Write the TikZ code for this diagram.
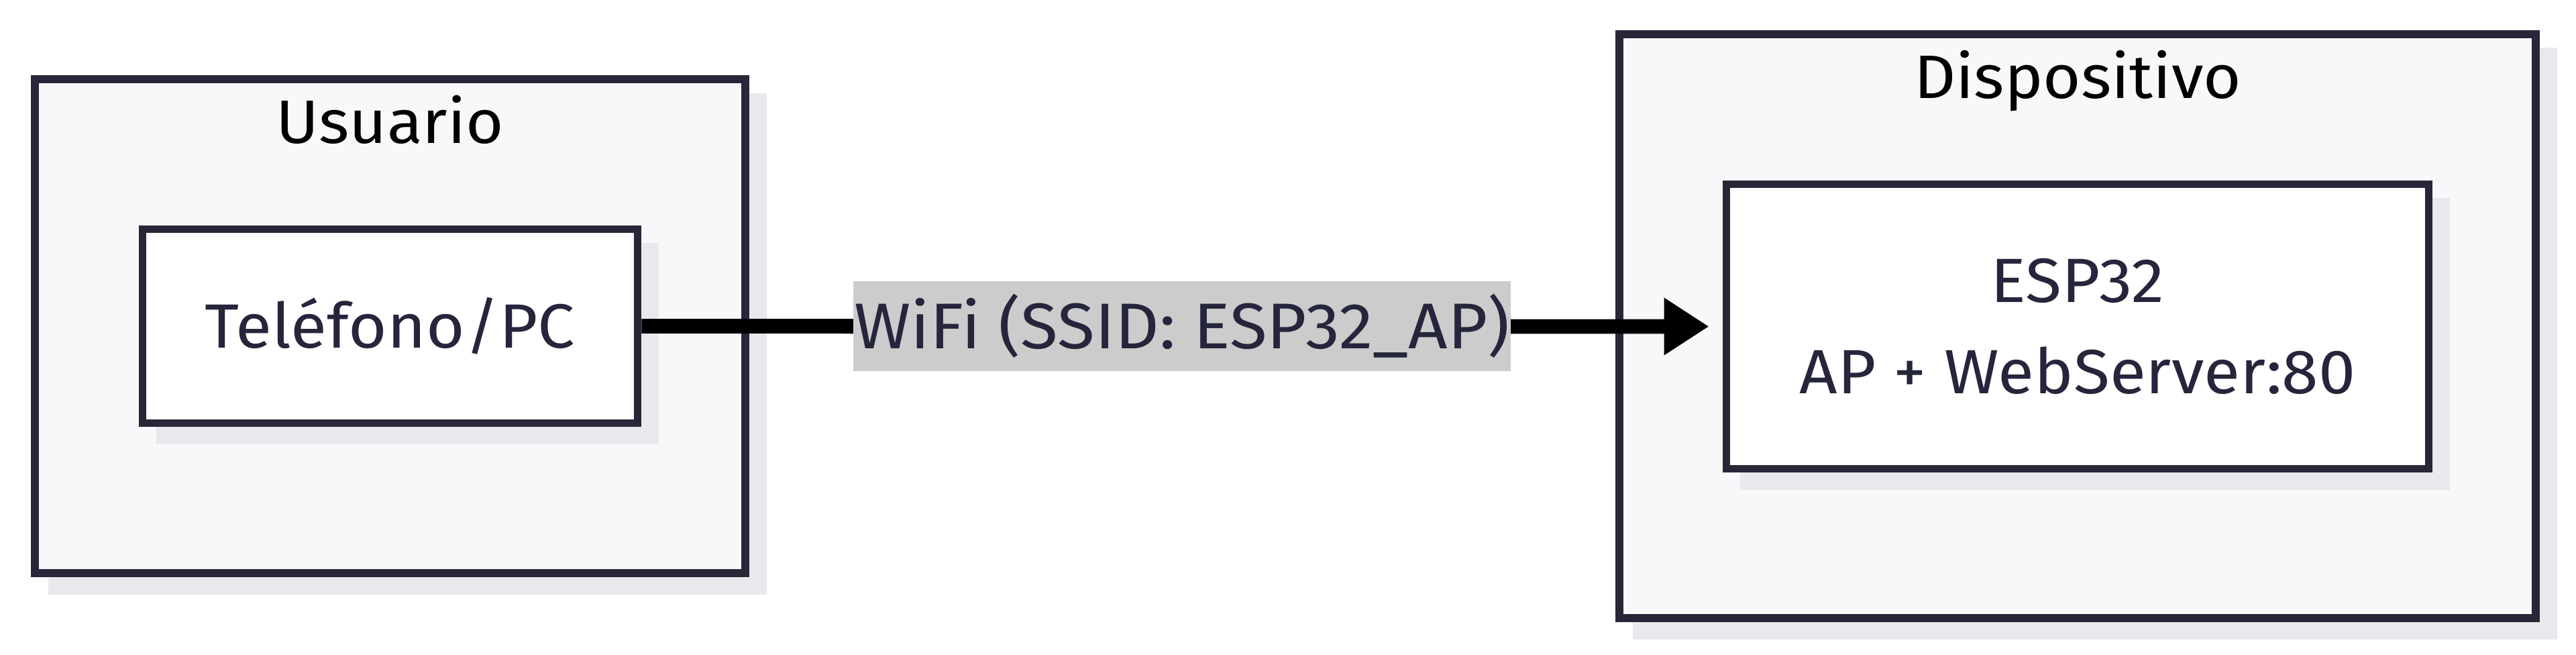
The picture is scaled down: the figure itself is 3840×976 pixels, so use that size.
\documentclass[tikz,border=0pt]{standalone}
\usepackage{fontspec}
\setmainfont{Fira Sans}[FakeStretch=1.06]
\usetikzlibrary{arrows.meta}
\definecolor{bordc}{HTML}{272739}
\definecolor{clfill}{HTML}{F8F8FA}
\definecolor{shadc}{HTML}{E9E9ED}
\definecolor{lblbg}{HTML}{CCCCCC}
\definecolor{txtc}{HTML}{25253C}
\tikzset{
  cluster/.style={draw=bordc, fill=clfill, line width=3.4pt, inner sep=0pt},
  clustertitle/.style={anchor=base, text=black, inner sep=0pt, font=\fontsize{26}{31}\selectfont},
  nodebox/.style={draw=bordc, fill=white, line width=3.2pt, inner sep=0pt, text=txtc,
     font=\fontsize{26.5}{38.4}\selectfont, text height=18.2pt, text depth=0pt, align=center},
  shadowbox/.style={fill=shadc},
  edgelabel/.style={fill=lblbg, text=txtc, inner sep=0pt, minimum width=9.8cm, minimum height=1.34cm,
     font=\fontsize{27.4}{33}\selectfont},
  conn/.style={line width=6.2pt, draw=black, -{Triangle[length=0.67cm, width=0.81cm]}}
}
\begin{document}
\begin{tikzpicture}[x=0.01cm, y=-0.01cm]
\useasboundingbox (0,0) rectangle (3840,976);
% cluster shadows
\fill[shadowbox] (72,139) rectangle (1143,886);
\fill[shadowbox] (2434,71) rectangle (3812,953);
% clusters
\node[cluster, minimum width=10.59cm, minimum height=7.36cm] (usr) at (581.5,486) {};
\node[clustertitle] (usrt) at (581.5,214) {Usuario};
\node[cluster, minimum width=13.66cm, minimum height=8.70cm] (dev) at (3097,486) {};
\node[clustertitle] (devt) at (3097,147) {Dispositivo};
% node shadows
\fill[shadowbox] (233,362) rectangle (982,662);
\fill[shadowbox] (2594,295) rectangle (3652,730);
% nodes
\node[nodebox, minimum width=7.38cm, minimum height=2.89cm] (tel) at (581.5,486) {Teléfono/PC};
\node[nodebox, minimum width=10.47cm, minimum height=4.24cm, text height=56.6pt] (esp) at (3097,486.5) {ESP32\\AP + WebServer:80};
% edge
\draw[conn, shorten >=0.2cm] (tel.east) -- node[edgelabel] (wifi) {WiFi (SSID: ESP32\_AP)} (esp.west);
\end{tikzpicture}
\end{document}
